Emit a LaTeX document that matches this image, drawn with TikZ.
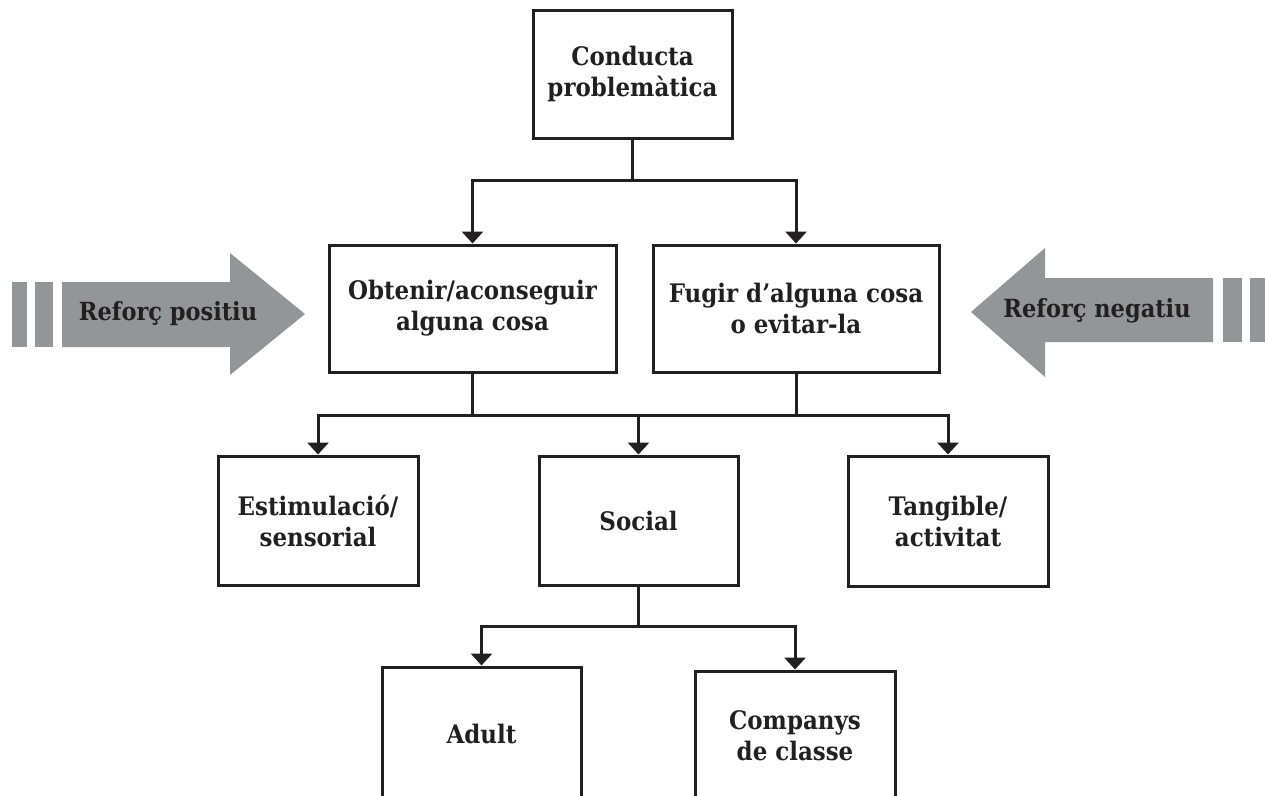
\documentclass[tikz,border=0pt]{standalone}
\usepackage{fontspec}
\setmainfont{DejaVu Serif Condensed}
\usetikzlibrary{arrows.meta}
\definecolor{ink}{HTML}{231F20}
\definecolor{arrowgray}{HTML}{939598}
\tikzset{
  box/.style={draw=ink, line width=3pt, text=ink, align=center, inner sep=0pt,
    font=\bfseries\fontsize{25.5}{31}\selectfont},
  conn/.style={draw=ink, line width=3pt},
  arr/.style={conn, -{Triangle[width=21pt,length=12pt]}},
  bigarrow/.style={fill=arrowgray, draw=none},
  arrowtext/.style={text=ink, font=\bfseries\fontsize{25}{26}\selectfont, inner sep=0pt}
}
\begin{document}
\begin{tikzpicture}[x=1pt, y=-1pt]
\useasboundingbox (0,0) rectangle (1265,795);
% boxes
\node[box, minimum width=199pt, minimum height=128pt] (top) at (632.5,74) {Conducta\\problemàtica};
\node[box, minimum width=287pt, minimum height=127pt] (obt) at (472.5,308.5) {Obtenir/aconseguir\\alguna cosa};
\node[box, minimum width=286pt, minimum height=127pt] (fug) at (796,308.5) {Fugir d’alguna cosa\\o evitar-la};
\node[box, minimum width=200pt, minimum height=129pt] (est) at (318,520.5) {Estimulació/\\sensorial};
\node[box, minimum width=199pt, minimum height=129pt] (soc) at (638.5,520.5) {Social};
\node[box, minimum width=200pt, minimum height=130pt] (tan) at (948,521) {Tangible/\\activitat};
\node[box, minimum width=199pt, minimum height=133pt] (adu) at (481.5,733.5) {Adult};
\node[box, minimum width=200pt, minimum height=129pt] (com) at (795,735.5) {Companys\\de classe};
% junction levels
\coordinate (bar1) at (0,180);
\coordinate (bar2) at (0,415);
\coordinate (bar3) at (0,626);
% connectors
\draw[arr] (top.south) -- (top.south |- bar1) -| (obt.north);
\draw[arr] (top.south) -- (top.south |- bar1) -| (fug.north);
\draw[conn] (obt.south) -- (obt.south |- bar2);
\draw[conn] (fug.south) -- (fug.south |- bar2);
\draw[conn] (obt.south |- bar2) -- (fug.south |- bar2);
\draw[arr] (obt.south |- bar2) -| (est.north);
\draw[arr] (fug.south |- bar2) -| (tan.north);
\draw[arr] (soc.north |- bar2) -- (soc.north);
\draw[arr] (soc.south) -- (soc.south |- bar3) -| (adu.north);
\draw[arr] (soc.south) -- (soc.south |- bar3) -| (com.north);
% big arrows
\fill[bigarrow] (12,282) rectangle (27,347);
\fill[bigarrow] (35,282) rectangle (53,347);
\fill[bigarrow] (62,282) -- (230,282) -- (230,253) -- (305,314) -- (230,375) -- (230,347) -- (62,347) -- cycle;
\node[arrowtext] (pos) at (168,314) {Reforç positiu};
\fill[bigarrow] (1223,278) rectangle (1242,342);
\fill[bigarrow] (1250,278) rectangle (1270,342);
\fill[bigarrow] (1213,278) -- (1045,278) -- (1045,248) -- (971,312) -- (1045,377) -- (1045,342) -- (1213,342) -- cycle;
\node[arrowtext] (neg) at (1097,311) {Reforç negatiu};
\end{tikzpicture}
\end{document}
